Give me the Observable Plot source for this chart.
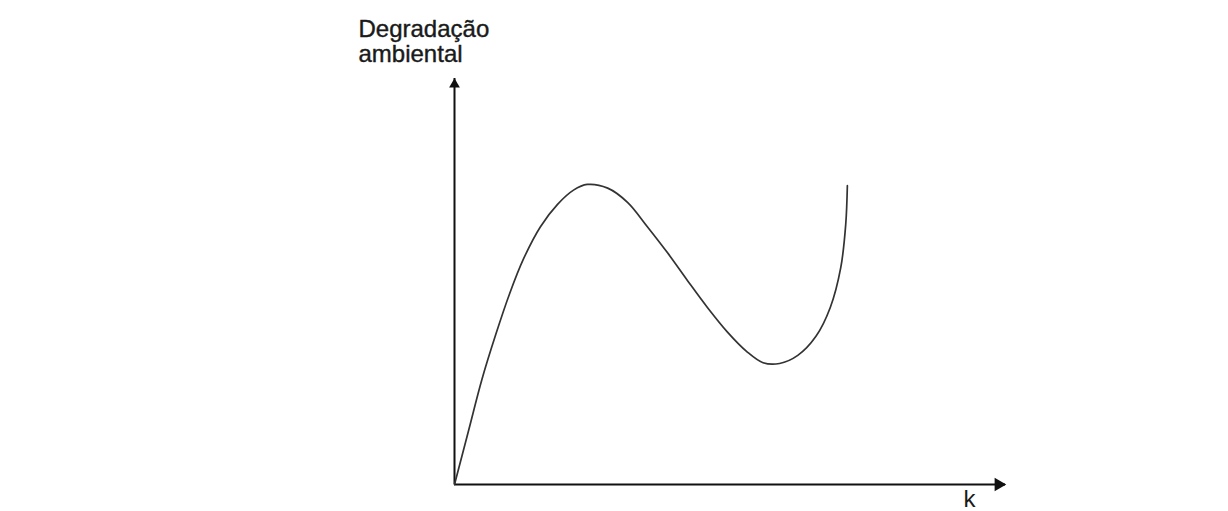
<!DOCTYPE html>
<html>
<head>
<meta charset="utf-8">
<script src="https://cdn.jsdelivr.net/npm/d3@7"></script>
<script src="https://cdn.jsdelivr.net/npm/@observablehq/plot@0.6"></script>
<style>
  html, body { margin: 0; padding: 0; background: #fff; }
  #chart svg { display: block; }
</style>
</head>
<body>
<div id="chart"></div>
<script>
// Curve: k (arbitrary units, 0–100) vs. degradação ambiental (arbitrary units, 0–100)
const kValues = [0, 2.5, 5, 7.5, 10, 12.5, 15.6, 18.7, 21.6, 24.1, 27.8, 31.4, 35.0, 38.7, 42.3, 45.9, 49.5, 53.0, 56.0, 59.0, 62.3, 65.6, 68.2, 70.1, 71.0, 71.3];
const degradacao = [0, 13, 26, 37, 47, 55.5, 63.5, 69, 72.5, 73.9, 73, 69.5, 63.5, 57, 50.2, 43.6, 37.6, 32.8, 30.0, 29.8, 31.8, 36.5, 43.6, 53.4, 64, 73.6];
const xDomain = [0, 100];
const yDomain = [0, 100];
const yLabel = "Degradação\nambiental";
const xLabel = "k";

const curve = kValues.map((k, i) => ({k, d: degradacao[i]}));

const chart = Plot.plot({
  width: 1228,
  height: 511,
  marginLeft: 454,
  marginRight: 223,
  marginTop: 78,
  marginBottom: 27,
  style: {background: "#fff", fontFamily: "'Liberation Sans', Arial, sans-serif"},
  x: {domain: xDomain, axis: null},
  y: {domain: yDomain, axis: null},
  marks: [
    // axes
    Plot.ruleX([xDomain[0]], {y1: yDomain[0], y2: yDomain[1], stroke: "#111", strokeWidth: 2}),
    Plot.ruleY([yDomain[0]], {x1: xDomain[0], x2: xDomain[1], stroke: "#111", strokeWidth: 2.2}),
    Plot.dot([{x: xDomain[0], y: yDomain[1]}], {x: "x", y: "y", symbol: "triangle", r: 4, fill: "#111", stroke: "none", dy: 6}),
    Plot.dot([{x: xDomain[1], y: yDomain[0]}], {x: "x", y: "y", symbol: "triangle", r: 5, rotate: 90, fill: "#111", stroke: "none", dx: -7}),
    // curve
    Plot.line(curve, {x: "k", y: "d", curve: "catmull-rom", stroke: "#333", strokeWidth: 1.7}),
    // labels
    Plot.text([yLabel], {x: xDomain[0], y: yDomain[1], text: d => d, textAnchor: "start", lineAnchor: "top", lineHeight: 1.04, dx: -96, dy: -59, fontSize: 24, fill: "#1a1a1a", stroke: "#1a1a1a", strokeWidth: 0.4}),
    Plot.text([xLabel], {x: xDomain[1], y: yDomain[0], text: d => d, textAnchor: "middle", lineAnchor: "top", dx: -36, dy: 5, fontSize: 24, fill: "#1a1a1a"})
  ]
});
document.getElementById("chart").appendChild(chart);
</script>
</body>
</html>
